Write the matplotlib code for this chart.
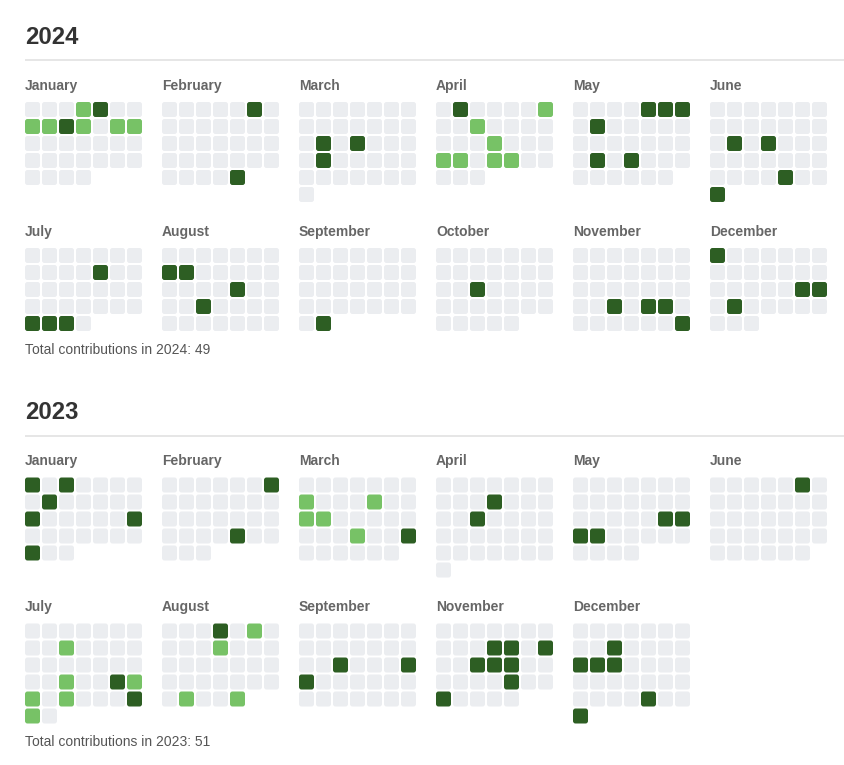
import datetime
import matplotlib
matplotlib.use("Agg")
import matplotlib.pyplot as plt
from matplotlib.patches import FancyBboxPatch

# ---------------- data ----------------
YEARS = [2024, 2023]
MONTHS_2024 = [1, 2, 3, 4, 5, 6, 7, 8, 9, 10, 11, 12]
MONTHS_2023 = [1, 2, 3, 4, 5, 6, 7, 8, 9, 11, 12]
MONTH_NAMES = ["January", "February", "March", "April", "May", "June",
               "July", "August", "September", "October", "November", "December"]

LIGHT_2024 = ["2024-01-03", "2024-01-07", "2024-01-08", "2024-01-10", "2024-01-12",
              "2024-01-13", "2024-04-06", "2024-04-09", "2024-04-17", "2024-04-21",
              "2024-04-22", "2024-04-24", "2024-04-25"]
DARK_2024 = ["2024-01-04", "2024-01-09", "2024-02-02", "2024-02-29", "2024-03-11",
             "2024-03-13", "2024-03-18", "2024-04-01", "2024-05-02", "2024-05-03",
             "2024-05-04", "2024-05-06", "2024-05-20", "2024-05-22", "2024-06-10",
             "2024-06-12", "2024-06-27", "2024-06-30", "2024-07-11", "2024-07-28",
             "2024-07-29", "2024-07-30", "2024-08-04", "2024-08-05", "2024-08-15",
             "2024-08-20", "2024-09-30", "2024-10-15", "2024-11-19", "2024-11-21",
             "2024-11-22", "2024-11-30", "2024-12-01", "2024-12-20", "2024-12-21",
             "2024-12-23"]

LIGHT_2023 = ["2023-03-05", "2023-03-09", "2023-03-12", "2023-03-13", "2023-03-22",
              "2023-07-04", "2023-07-18", "2023-07-22", "2023-07-23", "2023-07-25",
              "2023-07-30", "2023-08-04", "2023-08-09", "2023-08-28", "2023-08-31"]
DARK_2023 = ["2023-01-01", "2023-01-03", "2023-01-09", "2023-01-15", "2023-01-21",
             "2023-01-29", "2023-02-04", "2023-02-23", "2023-03-25", "2023-04-05",
             "2023-04-11", "2023-05-19", "2023-05-20", "2023-05-21", "2023-05-22",
             "2023-06-02", "2023-07-21", "2023-07-29", "2023-08-02", "2023-09-12",
             "2023-09-16", "2023-09-17", "2023-11-08", "2023-11-09", "2023-11-11",
             "2023-11-14", "2023-11-15", "2023-11-16", "2023-11-23", "2023-11-26",
             "2023-12-05", "2023-12-10", "2023-12-11", "2023-12-12", "2023-12-28",
             "2023-12-31"]

TOTALS = [49, 51]

# ---------------- style ----------------
C_EMPTY = "#ebedf0"
C_LIGHT = "#77c266"
C_DARK = "#2d5e23"
C_TITLE = "#333333"
C_LABEL = "#666666"
C_TOTAL = "#555555"
C_RULE = "#e4e4e4"
FONT = "Liberation Sans"

W, H = 845, 765
fig = plt.figure(figsize=(W / 100, H / 100), dpi=100)
ax = fig.add_axes([0, 0, 1, 1])
ax.set_xlim(0, W)
ax.set_ylim(H, 0)
ax.axis("off")

CELL, PITCH = 15, 17
COL_W = 137
X0 = 25

year_months = {2024: MONTHS_2024, 2023: MONTHS_2023}
year_light = {2024: LIGHT_2024, 2023: LIGHT_2023}
year_dark = {2024: DARK_2024, 2023: DARK_2023}


def n_rows(y, m):
    import calendar
    off = (datetime.date(y, m, 1).weekday() + 1) % 7
    nd = calendar.monthrange(y, m)[1]
    return (off + nd + 6) // 7, off, nd


t = 26.0
for yi, year in enumerate(YEARS):
    ax.text(X0, t + 17.5, str(year), fontsize=17.2, fontweight="bold",
            color=C_TITLE, family=FONT, va="baseline", ha="left")
    ax.plot([X0, W], [t + 34, t + 34], color=C_RULE, lw=1.3, solid_capstyle="butt")
    light = set(year_light[year])
    dark = set(year_dark[year])
    months = year_months[year]
    label_top = t + 53
    cells_bottom = label_top
    for r0 in range(0, len(months), 6):
        row_months = months[r0:r0 + 6]
        cells_top = label_top + 23
        max_rows = 0
        for k, m in enumerate(row_months):
            mx = X0 + k * COL_W
            ax.text(mx, label_top + 10.5, MONTH_NAMES[m - 1], fontsize=10,
                    fontweight="bold", color=C_LABEL, family=FONT,
                    va="baseline", ha="left")
            nr, off, nd = n_rows(year, m)
            max_rows = max(max_rows, nr)
            for idx in range(off + nd):
                row, col = divmod(idx, 7)
                day = idx - off + 1
                color = C_EMPTY
                if day >= 1:
                    key = f"{year}-{m:02d}-{day:02d}"
                    if key in dark:
                        color = C_DARK
                    elif key in light:
                        color = C_LIGHT
                p = FancyBboxPatch((mx + col * PITCH, cells_top + row * PITCH),
                                   CELL, CELL,
                                   boxstyle="round,pad=0,rounding_size=2.5",
                                   linewidth=0, facecolor=color)
                ax.add_patch(p)
        cells_bottom = cells_top + max_rows * PITCH - 2
        label_top = cells_bottom + 23
    total_top = cells_bottom + 12.5
    ax.text(X0, total_top + 10.3, f"Total contributions in {year}: {TOTALS[yi]}",
            fontsize=10, color=C_TOTAL, family=FONT, va="baseline", ha="left")
    t = total_top + 58

fig.savefig("out.png", dpi=100, facecolor="white")
